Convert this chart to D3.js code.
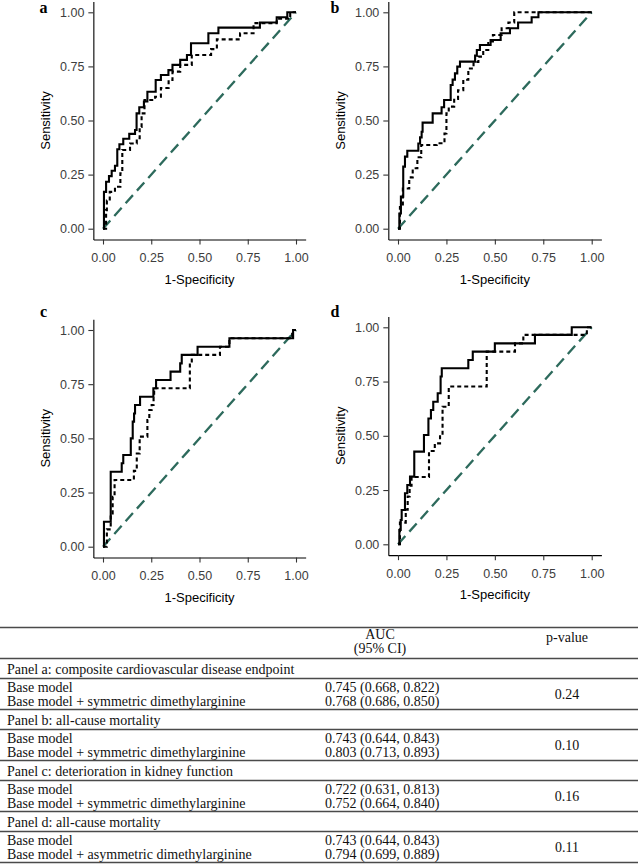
<!DOCTYPE html>
<html><head><meta charset="utf-8">
<script src="https://cdn.jsdelivr.net/npm/d3@7"></script>
<style>body{margin:0;background:#fff}</style>
</head><body>
<svg id="chart" width="638" height="865"></svg>
<script>
// ---------- DATA ----------
const tickValues = [0, 0.25, 0.5, 0.75, 1];
const panelLetters = ["a", "b", "c", "d"];
const xTitle = "1-Specificity";
const yTitle = "Sensitivity";

// Panel a
const aSolidFpr = [0,0.005,0.016,0.031,0.045,0.062,0.074,0.085,0.105,0.136,0.166,0.174,0.188,0.212,0.23,0.273,0.3,0.339,0.36,0.4,0.435,0.456,0.546,0.598,0.813,0.9,0.955,1];
const aSolidTpr = [0,0.17,0.217,0.243,0.268,0.291,0.367,0.39,0.416,0.438,0.456,0.533,0.561,0.588,0.633,0.687,0.71,0.733,0.757,0.78,0.803,0.857,0.903,0.929,0.953,0.977,1,1];
const aDashFpr = [0,0.016,0.02,0.035,0.062,0.09,0.1,0.14,0.175,0.19,0.2,0.215,0.27,0.3,0.34,0.36,0.4,0.46,0.56,0.59,0.71,0.78,0.9,0.97,1];
const aDashTpr = [0,0.086,0.13,0.17,0.194,0.256,0.364,0.394,0.418,0.47,0.533,0.595,0.61,0.65,0.687,0.726,0.757,0.803,0.83,0.875,0.903,0.95,0.97,1,1];
// Panel b
const bSolidFpr = [0,0.007,0.015,0.027,0.036,0.048,0.105,0.114,0.122,0.127,0.179,0.225,0.238,0.272,0.282,0.294,0.306,0.32,0.398,0.407,0.423,0.478,0.53,0.578,0.62,0.69,0.725,1];
const bSolidTpr = [0,0.07,0.148,0.287,0.333,0.36,0.394,0.422,0.448,0.49,0.533,0.561,0.595,0.664,0.689,0.718,0.749,0.772,0.8,0.826,0.849,0.872,0.903,0.926,0.953,0.977,1,1];
const bDashFpr = [0,0.01,0.025,0.058,0.076,0.1,0.12,0.2,0.24,0.25,0.262,0.29,0.31,0.337,0.363,0.39,0.415,0.44,0.466,0.49,0.535,0.57,0.6,1];
const bDashTpr = [0,0.1,0.186,0.237,0.279,0.33,0.387,0.395,0.44,0.533,0.564,0.6,0.64,0.688,0.74,0.77,0.795,0.826,0.865,0.895,0.926,0.953,1,1];
// Panel c
const cSolidFpr = [0,0.005,0.04,0.097,0.105,0.144,0.154,0.161,0.166,0.192,0.261,0.275,0.35,0.4,0.408,0.49,0.655,0.985,1];
const cSolidTpr = [0,0.115,0.346,0.385,0.423,0.5,0.577,0.615,0.654,0.692,0.731,0.769,0.808,0.846,0.885,0.923,0.962,1,1];
const cDashFpr = [0,0.02,0.04,0.05,0.06,0.16,0.175,0.19,0.23,0.24,0.252,0.262,0.265,0.45,0.46,0.606,0.655,0.98,1];
const cDashTpr = [0,0.08,0.154,0.23,0.308,0.35,0.43,0.508,0.585,0.631,0.654,0.692,0.731,0.846,0.885,0.923,0.962,1,1];
// Panel d
const dSolidFpr = [0,0.007,0.014,0.019,0.036,0.048,0.062,0.084,0.134,0.157,0.17,0.182,0.205,0.22,0.226,0.363,0.386,0.5,0.707,0.897,1];
const dSolidTpr = [0,0.066,0.112,0.158,0.235,0.273,0.312,0.427,0.504,0.58,0.619,0.657,0.696,0.773,0.811,0.849,0.888,0.926,0.965,1,1];
const dDashFpr = [0,0.01,0.04,0.05,0.06,0.07,0.16,0.19,0.217,0.23,0.262,0.458,0.604,0.647,0.975,1];
const dDashTpr = [0,0.1,0.16,0.22,0.27,0.31,0.43,0.465,0.504,0.634,0.727,0.888,0.926,0.965,1,1];

// Table
const headerAuc = ["AUC", "(95% CI)"];
const headerP = "p-value";
const panelTitles = [
  "Panel a: composite cardiovascular disease endpoint",
  "Panel b: all-cause mortality",
  "Panel c: deterioration in kidney function",
  "Panel d: all-cause mortality"
];
const modelNames = [
  ["Base model", "Base model + symmetric dimethylarginine"],
  ["Base model", "Base model + symmetric dimethylarginine"],
  ["Base model", "Base model + symmetric dimethylarginine"],
  ["Base model", "Base model + asymmetric dimethylarginine"]
];
const aucTexts = [
  ["0.745 (0.668, 0.822)", "0.768 (0.686, 0.850)"],
  ["0.743 (0.644, 0.843)", "0.803 (0.713, 0.893)"],
  ["0.722 (0.631, 0.813)", "0.752 (0.664, 0.840)"],
  ["0.743 (0.644, 0.843)", "0.794 (0.699, 0.889)"]
];
const pValues = ["0.24", "0.10", "0.16", "0.11"];

// ---------- LAYOUT ----------
const svg = d3.select("#chart");
const sans = "'Liberation Sans', Arial, sans-serif";
const serif = "'Liberation Serif', 'Times New Roman', serif";

const curves = [
  [[aSolidFpr, aSolidTpr], [aDashFpr, aDashTpr]],
  [[bSolidFpr, bSolidTpr], [bDashFpr, bDashTpr]],
  [[cSolidFpr, cSolidTpr], [cDashFpr, cDashTpr]],
  [[dSolidFpr, dSolidTpr], [dDashFpr, dDashTpr]]
];
const frames = [
  {x0:103, x1:296, y0:228.7, y1:12.3, lx:43.5, ly:12.5},
  {x0:398, x1:591.7, y0:228.7, y1:12.3, lx:335, ly:12.5},
  {x0:103, x1:296, y0:546.7, y1:330, lx:43.5, ly:317},
  {x0:398, x1:591.7, y0:544.3, y1:327.3, lx:335, ly:317}
];
const fmt = d3.format(".2f");

frames.forEach((f, i) => {
  const dx = (f.x1 - f.x0) * 0.05, dy = (f.y0 - f.y1) * 0.05;
  const x = d3.scaleLinear().domain([-0.05, 1.05]).range([f.x0 - dx, f.x1 + dx]);
  const y = d3.scaleLinear().domain([-0.05, 1.05]).range([f.y0 + dy, f.y1 - dy]);
  const g = svg.append("g");

  const xa = g.append("g").attr("transform", `translate(0,${y(-0.05)})`)
    .call(d3.axisBottom(x).tickValues(tickValues).tickFormat(fmt).tickSize(5).tickPadding(9).tickSizeOuter(0));
  const ya = g.append("g").attr("transform", `translate(${x(-0.05)},0)`)
    .call(d3.axisLeft(y).tickValues(tickValues).tickFormat(fmt).tickSize(5).tickPadding(4).tickSizeOuter(0));
  [xa, ya].forEach(a => {
    a.select(".domain").attr("stroke", "#000").attr("stroke-width", 1.1);
    a.selectAll(".tick line").attr("stroke", "#333").attr("stroke-width", 1.1);
    a.selectAll(".tick text").attr("fill", "#3d3d3d").style("font-family", sans).style("font-size", "12.5px");
  });

  // diagonal
  g.append("path")
    .attr("d", d3.line().x(d => x(d)).y(d => y(d))([0, 1]))
    .attr("fill", "none").attr("stroke", "#2d6a5c").attr("stroke-width", 2.3)
    .attr("stroke-dasharray", "11,6");

  const line = d3.line().curve(d3.curveStepAfter).x(d => x(d[0])).y(d => y(d[1]));
  const [solid, dash] = curves[i];
  g.append("path").attr("d", line(dash[0].map((v, k) => [v, dash[1][k]])))
    .attr("fill", "none").attr("stroke", "#000").attr("stroke-width", 2.1)
    .attr("stroke-dasharray", "4,3");
  g.append("path").attr("d", line(solid[0].map((v, k) => [v, solid[1][k]])))
    .attr("fill", "none").attr("stroke", "#000").attr("stroke-width", 2.1);

  // titles
  g.append("text").attr("x", (x(-0.05) + x(1.05)) / 2).attr("y", y(-0.05) + 44)
    .attr("text-anchor", "middle").style("font-family", sans).style("font-size", "13px")
    .attr("fill", "#000").text(xTitle);
  g.append("text")
    .attr("transform", `translate(${x(-0.05) - 47.5},${(y(-0.05) + y(1.05)) / 2}) rotate(-90)`)
    .attr("dy", "0.35em").attr("text-anchor", "middle").style("font-family", sans)
    .style("font-size", "13px").attr("fill", "#000").text(yTitle);
  g.append("text").attr("x", f.lx).attr("y", f.ly).attr("text-anchor", "middle")
    .style("font-family", serif).style("font-weight", "bold").style("font-size", "16px")
    .attr("fill", "#000").text(panelLetters[i]);
});

// ---------- TABLE ----------
const T = svg.append("g").style("font-family", serif).style("font-size", "14px").attr("fill", "#111");
const tableTop = 627.5, headH = 31, labH = 20, datH = 31;
const colL = 7, colV = 325, colAuc = 380, colP = 567;
const hline = (yy, w) => T.append("line").attr("x1", 0).attr("x2", 638).attr("y1", yy).attr("y2", yy)
  .attr("stroke", "#4a4a4a").attr("stroke-width", w || 1.3);

hline(tableTop, 1.4);
T.append("text").attr("x", colAuc).attr("y", tableTop + 11).attr("text-anchor", "middle").text(headerAuc[0]);
T.append("text").attr("x", colAuc).attr("y", tableTop + 25).attr("text-anchor", "middle").text(headerAuc[1]);
T.append("text").attr("x", colP).attr("y", tableTop + 14).attr("text-anchor", "middle").text(headerP);
let rowY = tableTop + headH;
hline(rowY);
panelTitles.forEach((t, i) => {
  T.append("text").attr("x", colL).attr("y", rowY + 15).text(t);
  rowY += labH;
  hline(rowY, 1.6);
  modelNames[i].forEach((m, k) => {
    T.append("text").attr("x", colL).attr("y", rowY + 13 + k * 14).text(m);
    T.append("text").attr("x", colV).attr("y", rowY + 13 + k * 14).text(aucTexts[i][k]);
  });
  T.append("text").attr("x", colP).attr("y", rowY + 20.5).attr("text-anchor", "middle").text(pValues[i]);
  rowY += datH;
  hline(rowY, 1.6);
});
</script>
</body></html>
